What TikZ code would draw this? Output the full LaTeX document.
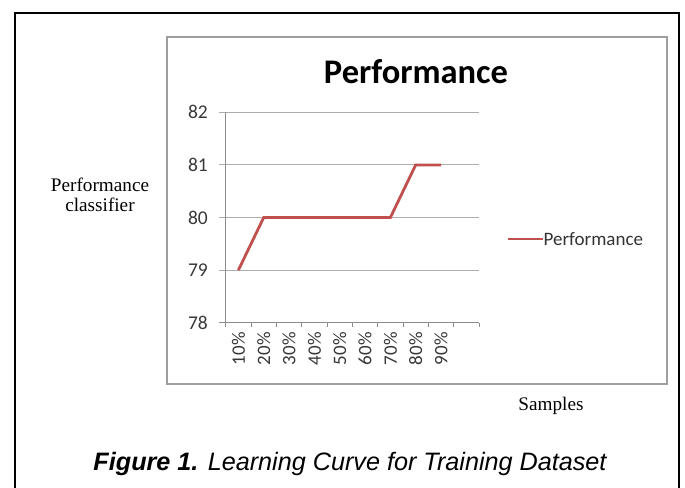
\documentclass[tikz,border=0pt]{standalone}
\usepackage{fontspec}
\setmainfont{Liberation Serif}
\newfontfamily\chartfont{Carlito}
\newfontfamily\capfont{Liberation Sans}
\definecolor{serieRed}{RGB}{192,80,77}
\begin{document}
\begin{tikzpicture}[x=1pt,y=-1pt,
  gridln/.style={draw=black!32,line width=1pt},
  axisln/.style={draw=black!45,line width=1pt},
  dataln/.style={draw=serieRed,line width=2.8pt,line join=miter},
  ylab/.style={anchor=east,font=\chartfont\fontsize{19.5}{19.5}\selectfont,text=black!78,inner sep=0pt},
  xlab/.style={anchor=east,rotate=90,font=\chartfont\fontsize{19}{19}\selectfont,text=black!78,inner sep=0pt},
  serif/.style={font=\fontsize{19.2}{19.5}\selectfont,align=center,inner sep=0pt}]
\useasboundingbox (0,0) rectangle (685,487);
% outer frame
\draw[line width=2pt] (15,500) -- (15,13) -- (679,13) -- (679,500);
% chart box
\draw[draw=black!38,line width=2pt] (167,37) rectangle (667,384);
% title
\node[font=\chartfont\bfseries\fontsize{34.5}{34.5}\selectfont,inner sep=0pt] (title) at (416,72) {Performance};
% gridlines
\foreach \v/\y in {79/270.1,80/217.5,81/164.9,82/112.3}{
  \draw[gridln] (219,\y) -- (479,\y);
}
% axes
\draw[axisln] (225.7,112.3) -- (225.7,322.7);
\draw[axisln] (219,322.7) -- (479,322.7);
\foreach \i in {0,...,10}{
  \draw[axisln] ({225.7+25.33*\i},322.7) -- ({225.7+25.33*\i},327);
}
% y labels
\foreach \v/\y in {78/322.7,79/270.1,80/217.5,81/164.9,82/112.3}{
  \node[ylab] (y\v) at (208,\y) {\v};
}
% x labels
\foreach \i in {1,...,9}{
  \node[xlab] (x\i) at ({225.7+25.33*(\i-0.5)},332) {\i0\%};
}
% data
\coordinate (p1) at (238.4,270.1);
\coordinate (p2) at (263.7,217.5);
\coordinate (p3) at (289.0,217.5);
\coordinate (p4) at (314.4,217.5);
\coordinate (p5) at (339.7,217.5);
\coordinate (p6) at (365.0,217.5);
\coordinate (p7) at (390.4,217.5);
\coordinate (p8) at (415.7,164.9);
\coordinate (p9) at (441.0,164.9);
\draw[dataln] (p1) -- (p2) -- (p3) -- (p4) -- (p5) -- (p6) -- (p7) -- (p8) -- (p9);
% legend
\coordinate (l1) at (507.7,239);
\coordinate (l2) at (543,239);
\draw[dataln] (l1) -- (l2);
\node[anchor=west,font=\chartfont\fontsize{19}{19}\selectfont,text=black!80,inner sep=0pt] (legtext) at (543.5,239) {Performance};
% axis titles
\node[serif] (ytitle) at (100,195) {Performance\\classifier};
\node[serif] (xtitle) at (551,406) {Samples};
% caption
\node[font=\capfont\fontsize{25.2}{26}\selectfont,inner sep=0pt] (caption) at (350,464) {\textbf{\itshape Figure 1.} \itshape Learning Curve for Training Dataset};
\end{tikzpicture}
\end{document}
